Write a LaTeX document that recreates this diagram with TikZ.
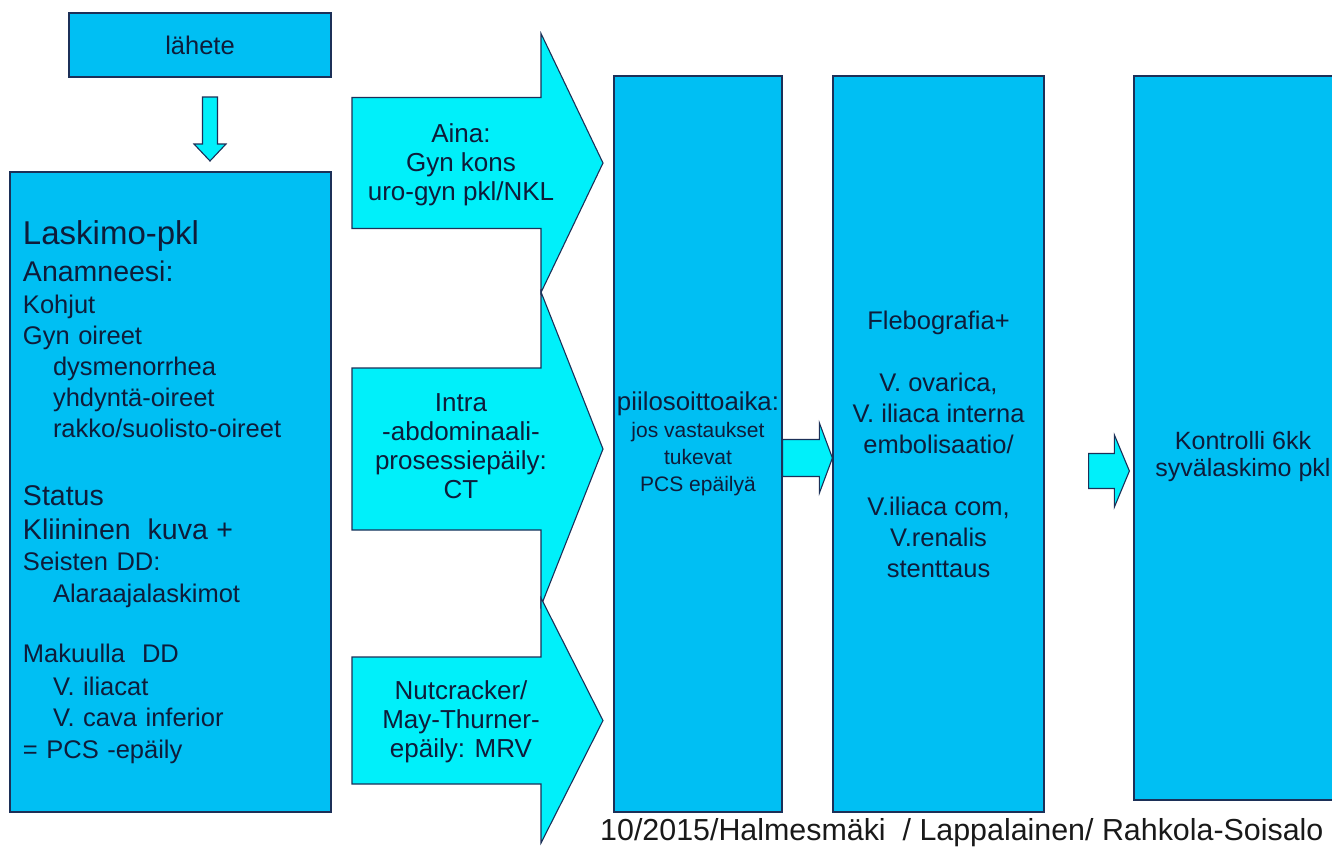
\documentclass[tikz,border=0pt]{standalone}
\usepackage{fontspec}
\setmainfont{Liberation Sans}
\usetikzlibrary{calc}
\definecolor{BoxBlue}{RGB}{0,191,243}
\definecolor{ArrCyan}{RGB}{0,240,250}
\definecolor{EdgeNavy}{RGB}{28,48,88}
\definecolor{TxtNavy}{RGB}{14,28,58}

\begin{document}
\begin{tikzpicture}[x=1pt,y=-1pt,
  box/.style={draw=EdgeNavy,fill=BoxBlue,line width=1.2pt,inner sep=0pt,
              align=center,text=TxtNavy,font=\fontsize{25.5}{31}\selectfont},
  bigarrow/.style={draw=EdgeNavy,fill=ArrCyan,line width=1.1pt,line join=miter},
  arrtext/.style={align=center,text=TxtNavy,inner sep=0pt,
                  font=\fontsize{26}{29}\selectfont},
]
\useasboundingbox (0,0) rectangle (1332,846);
\clip (0,0) rectangle (1332,846);

% left column
\node[box,minimum width=262pt,minimum height=64pt] (lahete) at (200,45) {lähete};
\node[box,minimum height=640pt,text width=295pt,inner xsep=13pt,align=left] (laskimo) at (170.5,492)
  {{\fontsize{33}{37}\selectfont Laskimo-pkl}\\[6pt]
   {\fontsize{28.5}{33}\selectfont Anamneesi:}\\[1pt]
   Kohjut\\
   Gyn oireet\\
   \hspace*{30pt}dysmenorrhea\\
   \hspace*{30pt}yhdyntä-oireet\\
   \hspace*{30pt}rakko/suolisto-oireet\\[37pt]
   {\fontsize{28.5}{33}\selectfont Status}\\[3pt]
   {\fontsize{28.5}{33}\selectfont Kliininen\ \ kuva +}\\
   Seisten DD:\\[1pt]
   \hspace*{30pt}Alaraajalaskimot\\[29pt]
   Makuulla\ \ DD\\[2pt]
   \hspace*{30pt}V. iliacat\\
   \hspace*{30pt}V. cava inferior\\[1pt]
   = PCS -epäily};

\coordinate (dntop) at (210,97);
\coordinate (dntip) at (210,161);
\draw[bigarrow] ($(dntop)+(-7.5,0)$) -- ($(dntop)+(7.5,0)$) -- ($(dntip)+(7.5,-17)$)
  -- ($(dntip)+(16,-17)$) -- (dntip) -- ($(dntip)+(-16,-17)$) -- ($(dntip)+(-7.5,-17)$) -- cycle;

% block arrows
\foreach \yc/\bh/\hh in {163/65.5/129.5,449/81/157,720.5/63.5/122.5}
  \draw[bigarrow] (352,\yc-\bh) -- (541,\yc-\bh) -- (541,\yc-\hh) -- (603,\yc)
    -- (541,\yc+\hh) -- (541,\yc+\bh) -- (352,\yc+\bh) -- cycle;
\node[arrtext] (aina) at (461,165) {Aina:\\Gyn kons\\uro-gyn pkl/NKL};
\node[arrtext] (intra) at (461,446) {Intra\\-abdominaali-\\prosessiepäily:\\CT};
\node[arrtext] (nutcr) at (461,722) {Nutcracker/\\May-Thurner-\\epäily: MRV};

% right columns
\node[box,minimum width=168pt,minimum height=736pt,font=\fontsize{21}{27}\selectfont] (piilo) at (698,444)
  {{\fontsize{25.8}{27}\selectfont piilosoittoaika:}\\jos vastaukset\\tukevat\\PCS epäilyä};
\node[box,minimum width=211pt,minimum height=736pt] (flebo) at (938.5,444)
  {Flebografia+\\[31pt]V. ovarica,\\V. iliaca interna\\embolisaatio/\\[31pt]V.iliaca com,\\V.renalis\\stenttaus};
\node[box,minimum width=218pt,minimum height=724pt] (kontr) at (1243,438) {};
\node[arrtext,font=\fontsize{25}{27}\selectfont] (kontrtxt) at (1243,457)
  {Kontrolli 6kk\\syvälaskimo pkl};

\coordinate (p2fs) at (piilo.east |- 0,458);
\coordinate (p2fe) at (flebo.west |- 0,458);
\draw[bigarrow] ($(p2fs)+(0,-18.5)$) -- ($(p2fe)+(-13,-18.5)$) -- ($(p2fe)+(-13,-35)$) -- (p2fe)
  -- ($(p2fe)+(-13,35)$) -- ($(p2fe)+(-13,18.5)$) -- ($(p2fs)+(0,18.5)$) -- cycle;

\coordinate (f2ks) at ($(flebo.east |- 0,471)+(44,0)$);
\coordinate (f2ke) at ($(kontr.west |- 0,471)+(-4,0)$);
\draw[bigarrow] ($(f2ks)+(0,-17.5)$) -- ($(f2ke)+(-15,-17.5)$) -- ($(f2ke)+(-15,-36)$) -- (f2ke)
  -- ($(f2ke)+(-15,36)$) -- ($(f2ke)+(-15,17.5)$) -- ($(f2ks)+(0,17.5)$) -- cycle;

\node[anchor=base west,inner sep=0pt,font=\fontsize{30.4}{34}\selectfont,text=black!90] (credit) at (600,840)
  {10/2015/Halmesmäki\ \ / Lappalainen/ Rahkola-Soisalo};
\end{tikzpicture}
\end{document}
